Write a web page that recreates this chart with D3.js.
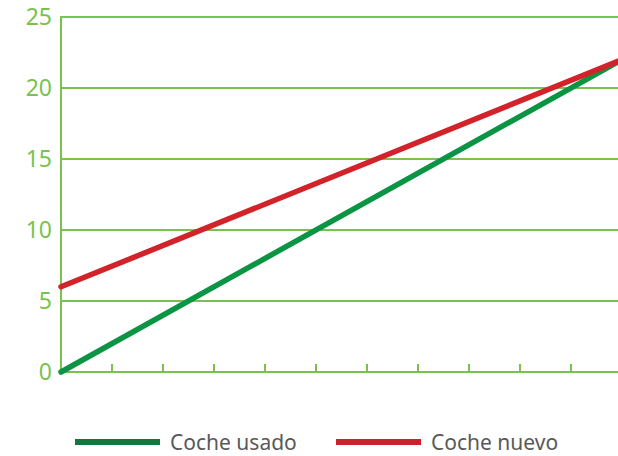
<!DOCTYPE html>
<html><head><meta charset="utf-8">
<script src="https://cdn.jsdelivr.net/npm/d3@7"></script>
<style>body{margin:0;background:#fff}svg{display:block}</style>
</head><body><svg id="c" width="618" height="456"></svg>
<script>
const yTicks = [0, 5, 10, 15, 20, 25];
const xTicks = [0, 1, 2, 3, 4, 5, 6, 7, 8, 9, 10];
const seriesNames = ["Coche usado", "Coche nuevo"];
const usadoX = [0, 11];
const usadoY = [0, 22];
const nuevoX = [0, 11];
const nuevoY = [6, 22];
const seriesColors = ["#0b9444", "#d2232a"];
const legendColors = ["#12773c", "#c9222a"];

const svg = d3.select("#c");
const x = d3.scaleLinear().domain([0, 11]).range([61, 622]);
const y = d3.scaleLinear().domain([0, 25]).range([372, 17]);
const gridC = "#79c24e";

// grid lines
svg.append("g").selectAll("line").data(yTicks.filter(d => d > 0)).join("line")
  .attr("x1", x(0)).attr("x2", 618).attr("y1", d => y(d)).attr("y2", d => y(d))
  .attr("stroke", gridC).attr("stroke-width", 2);

// y labels
svg.append("g").selectAll("text").data(yTicks).join("text")
  .attr("x", 52).attr("y", d => y(d)).attr("dy", "0.36em")
  .attr("text-anchor", "end").attr("fill", gridC)
  .attr("font-family", "'Noto Sans', sans-serif").attr("font-size", 23)
  .text(d => d);

// axes
svg.append("line").attr("x1", x(0)).attr("x2", x(0)).attr("y1", y(25) - 1).attr("y2", y(0) + 1)
  .attr("stroke", gridC).attr("stroke-width", 2);
svg.append("line").attr("x1", x(0)).attr("x2", 618).attr("y1", y(0)).attr("y2", y(0))
  .attr("stroke", gridC).attr("stroke-width", 2);
svg.append("g").selectAll("line").data(xTicks.filter(d => d > 0)).join("line")
  .attr("x1", d => x(d)).attr("x2", d => x(d)).attr("y1", y(0) - 8).attr("y2", y(0))
  .attr("stroke", gridC).attr("stroke-width", 2);

// series
const line = d3.line().x(d => x(d[0])).y(d => y(d[1]));
const data = [d3.zip(usadoX, usadoY), d3.zip(nuevoX, nuevoY)];
svg.append("g").selectAll("path").data(data).join("path")
  .attr("d", line).attr("fill", "none")
  .attr("stroke", (d, i) => seriesColors[i]).attr("stroke-width", 5.5)
  .attr("stroke-linecap", "round");

// legend
const legX = [75, 336];
const lg = svg.append("g").selectAll("g").data(seriesNames).join("g")
  .attr("transform", (d, i) => `translate(${legX[i]},442)`);
lg.append("rect").attr("x", 0).attr("y", -3).attr("width", 85).attr("height", 6)
  .attr("fill", (d, i) => legendColors[i]);
lg.append("text").attr("x", 95).attr("y", 0).attr("dy", "0.36em")
  .attr("fill", "#595959").attr("font-family", "'Noto Sans', sans-serif").attr("font-size", 21)
  .text(d => d);
</script></body></html>
